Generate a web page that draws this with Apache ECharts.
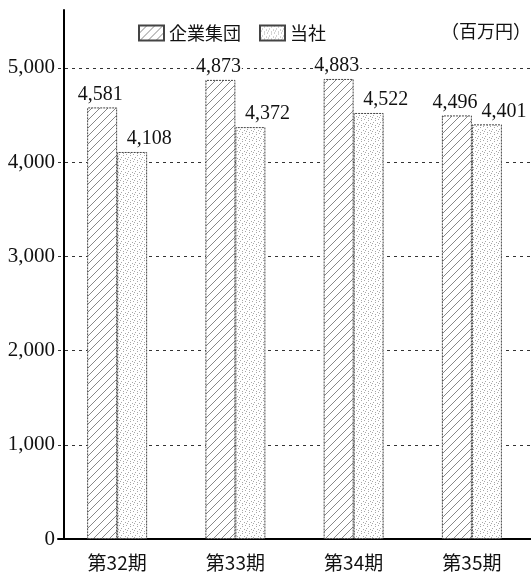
<!DOCTYPE html>
<html><head><meta charset="utf-8">
<script src="https://cdn.jsdelivr.net/npm/echarts@6/dist/echarts.min.js"></script>
<style>html,body{margin:0;padding:0;background:#fff}#c{width:531px;height:577px}</style>
</head><body><div id="c"></div>
<script>
const categories = ['第32期', '第33期', '第34期', '第35期'];
const seriesNames = ['企業集団', '当社'];
const groupValues = [4581, 4873, 4883, 4496];
const companyValues = [4108, 4372, 4522, 4401];
const yTicks = [0, 1000, 2000, 3000, 4000, 5000];
const unitLabel = '（百万円）';

function hatch() {
  const s = 8, c = document.createElement('canvas');
  c.width = s; c.height = s;
  const g = c.getContext('2d');
  g.fillStyle = '#fff'; g.fillRect(0, 0, s, s);
  g.strokeStyle = '#6a6a6a'; g.lineWidth = 0.8;
  g.beginPath();
  g.moveTo(-1, s + 1); g.lineTo(s + 1, -1);
  g.moveTo(-1, 1); g.lineTo(1, -1);
  g.moveTo(s - 1, s + 1); g.lineTo(s + 1, s - 1);
  g.stroke();
  return c;
}
function stipple() {
  const s = 7, c = document.createElement('canvas');
  c.width = s; c.height = s;
  const g = c.getContext('2d');
  g.fillStyle = '#fff'; g.fillRect(0, 0, s, s);
  g.fillStyle = '#a8a8a8';
  [[0,0],[4,1],[2,3],[6,4],[1,5],[4,6]].forEach(p => g.fillRect(p[0], p[1], 1, 1));
  return c;
}

const chart = echarts.init(document.getElementById('c'), null, {renderer: 'canvas'});
const numFont = 'Liberation Serif';
const cjkFont = 'Noto Sans CJK JP';
const fmt = v => v.toLocaleString('en-US');

const labelBase = {
  show: true, position: 'top', distance: 3,
  fontFamily: numFont, fontSize: 20, color: '#111',
  formatter: p => fmt(p.value)
};

chart.setOption({
  animation: false,
  grid: {left: 58, right: 0, top: 10, bottom: 38},
  legend: {
    data: seriesNames, left: 133, top: 19, icon: 'rect',
    itemWidth: 25, itemHeight: 15, itemGap: 18,
    textStyle: {fontFamily: cjkFont, fontSize: 18, color: '#111'}
  },
  title: {
    text: unitLabel, left: 436, top: 17,
    textStyle: {fontFamily: cjkFont, fontSize: 18, fontWeight: 'normal', color: '#111'}
  },
  xAxis: {
    type: 'category', data: categories,
    axisLine: {lineStyle: {color: '#000', width: 2}},
    axisTick: {show: false},
    axisLabel: {fontFamily: cjkFont, fontSize: 19, color: '#111', margin: 14}
  },
  yAxis: {
    type: 'value', min: 0, max: 5615, interval: 1000, offset: -6,
    axisLine: {show: true, lineStyle: {color: '#000', width: 2}},
    axisTick: {show: false},
    axisLabel: {
      fontFamily: numFont, fontSize: 21, color: '#111', margin: 9,
      showMaxLabel: false,
      formatter: v => yTicks.includes(v) ? fmt(v) : ''
    },
    splitLine: {show: true, showMaxLine: false, lineStyle: {color: '#333', width: 1, type: [3, 4]}}
  },
  series: [
    {
      name: seriesNames[0], type: 'bar', data: groupValues,
      barWidth: 30, barGap: '0%',
      itemStyle: {color: {image: hatch(), repeat: 'repeat'}, borderColor: '#444', borderWidth: 1, borderType: [2, 1]},
      label: Object.assign({}, labelBase, {backgroundColor: '#fff', padding: [0, 1], offset: [-2, 0]})
    },
    {
      name: seriesNames[1], type: 'bar', data: companyValues,
      barWidth: 30, barGap: '0%',
      itemStyle: {color: {image: stipple(), repeat: 'repeat'}, borderColor: '#444', borderWidth: 1, borderType: [2, 1]},
      label: Object.assign({}, labelBase, {offset: [17, 0]})
    }
  ]
});
</script></body></html>
